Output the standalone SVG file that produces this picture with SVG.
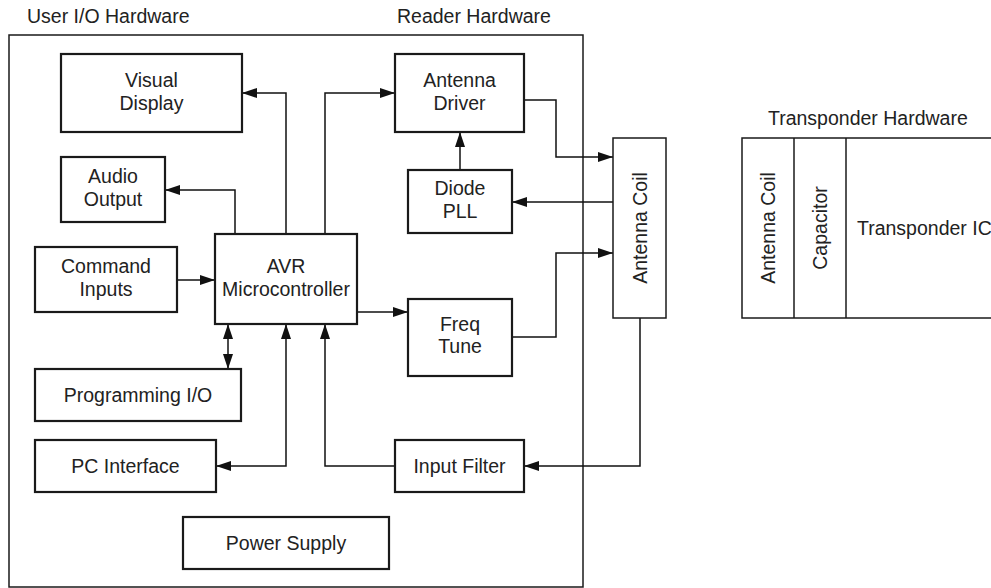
<svg xmlns="http://www.w3.org/2000/svg" width="991" height="588" viewBox="0 0 991 588">
<style>
.box{fill:#fff;stroke:#1a1a1a;stroke-width:2.2}
.frame{fill:none;stroke:#1a1a1a;stroke-width:1.5}
.t{font-family:"Liberation Sans",Arial,sans-serif;font-size:19.5px;fill:#222;text-anchor:middle}
.title{font-family:"Liberation Sans",Arial,sans-serif;font-size:19.5px;fill:#222}
.c{fill:none;stroke:#111;stroke-width:1.5}
</style>
<defs>
<marker id="ah" markerUnits="userSpaceOnUse" markerWidth="16" markerHeight="11" refX="15" refY="5" orient="auto-start-reverse">
<path d="M0,0 L15,5 L0,10 z" fill="#111"/>
</marker>
</defs>
<rect fill="#fff" x="0" y="0" width="991" height="588"/>
<g id="titles">
<text class="title" x="27" y="22.7">User I/O Hardware</text>
<text class="title" x="397" y="22.7">Reader Hardware</text>
<text class="title" x="768" y="125">Transponder Hardware</text>
</g>
<rect id="reader-frame" class="frame" x="9" y="35" width="574" height="552"/>
<g id="connectors">
<path class="c" d="M286,234 V93 H242" marker-end="url(#ah)"/>
<path class="c" d="M235,234 V190 H165" marker-end="url(#ah)"/>
<path class="c" d="M325,234 V93 H395" marker-end="url(#ah)"/>
<path class="c" d="M177,280 H215" marker-end="url(#ah)"/>
<path class="c" d="M228,324 V369" marker-start="url(#ah)" marker-end="url(#ah)"/>
<path class="c" d="M286,324 V466 H216" marker-start="url(#ah)" marker-end="url(#ah)"/>
<path class="c" d="M395,466 H325 V324" marker-end="url(#ah)"/>
<path class="c" d="M357,312 H408" marker-end="url(#ah)"/>
<path class="c" d="M512,337 H556 V253 H613" marker-end="url(#ah)"/>
<path class="c" d="M524,100 H556 V157 H613" marker-end="url(#ah)"/>
<path class="c" d="M613,202 H512" marker-end="url(#ah)"/>
<path class="c" d="M460,170 V132" marker-end="url(#ah)"/>
<path class="c" d="M640,318 V466 H524" marker-end="url(#ah)"/>
</g>
<g id="visual-display"><rect class="box" x="61" y="54" width="181" height="78"/><text class="t" x="151.5" y="86.5">Visual</text><text class="t" x="151.5" y="109.5">Display</text></g>
<g id="audio-output"><rect class="box" x="61" y="157" width="104" height="65"/><text class="t" x="113" y="182.7">Audio</text><text class="t" x="113" y="206">Output</text></g>
<g id="command-inputs"><rect class="box" x="35" y="247" width="142" height="65"/><text class="t" x="106" y="272.7">Command</text><text class="t" x="106" y="296">Inputs</text></g>
<g id="avr"><rect class="box" x="215" y="234" width="142" height="90"/><text class="t" x="286" y="272.7">AVR</text><text class="t" x="286" y="296">Microcontroller</text></g>
<g id="programming-io"><rect class="box" x="35" y="369" width="206" height="52"/><text class="t" x="138" y="401.7">Programming I/O</text></g>
<g id="pc-interface"><rect class="box" x="35" y="440" width="181" height="52"/><text class="t" x="125.5" y="473">PC Interface</text></g>
<g id="power-supply"><rect class="box" x="183" y="517" width="206" height="52"/><text class="t" x="286" y="550">Power Supply</text></g>
<g id="antenna-driver"><rect class="box" x="395" y="54" width="129" height="78"/><text class="t" x="459.5" y="86.5">Antenna</text><text class="t" x="459.5" y="109.5">Driver</text></g>
<g id="diode-pll"><rect class="box" x="408" y="170" width="104" height="63"/><text class="t" x="460" y="195">Diode</text><text class="t" x="460" y="218.3">PLL</text></g>
<g id="freq-tune"><rect class="box" x="408" y="299" width="104" height="77"/><text class="t" x="460" y="331">Freq</text><text class="t" x="460" y="353.3">Tune</text></g>
<g id="input-filter"><rect class="box" x="395" y="440" width="129" height="52"/><text class="t" x="459.5" y="473">Input Filter</text></g>
<g id="antenna-coil"><rect class="frame" x="613" y="138" width="53" height="180"/><text class="t" transform="translate(646.5,228) rotate(-90)">Antenna Coil</text></g>
<g id="transponder">
<rect class="frame" x="742" y="138" width="260" height="180"/>
<line class="frame" x1="794" y1="138" x2="794" y2="318"/>
<line class="frame" x1="846" y1="138" x2="846" y2="318"/>
<text class="t" transform="translate(775,228) rotate(-90)">Antenna Coil</text>
<text class="t" transform="translate(827,228) rotate(-90)">Capacitor</text>
<text class="title" x="857" y="235">Transponder IC</text>
</g>
</svg>
